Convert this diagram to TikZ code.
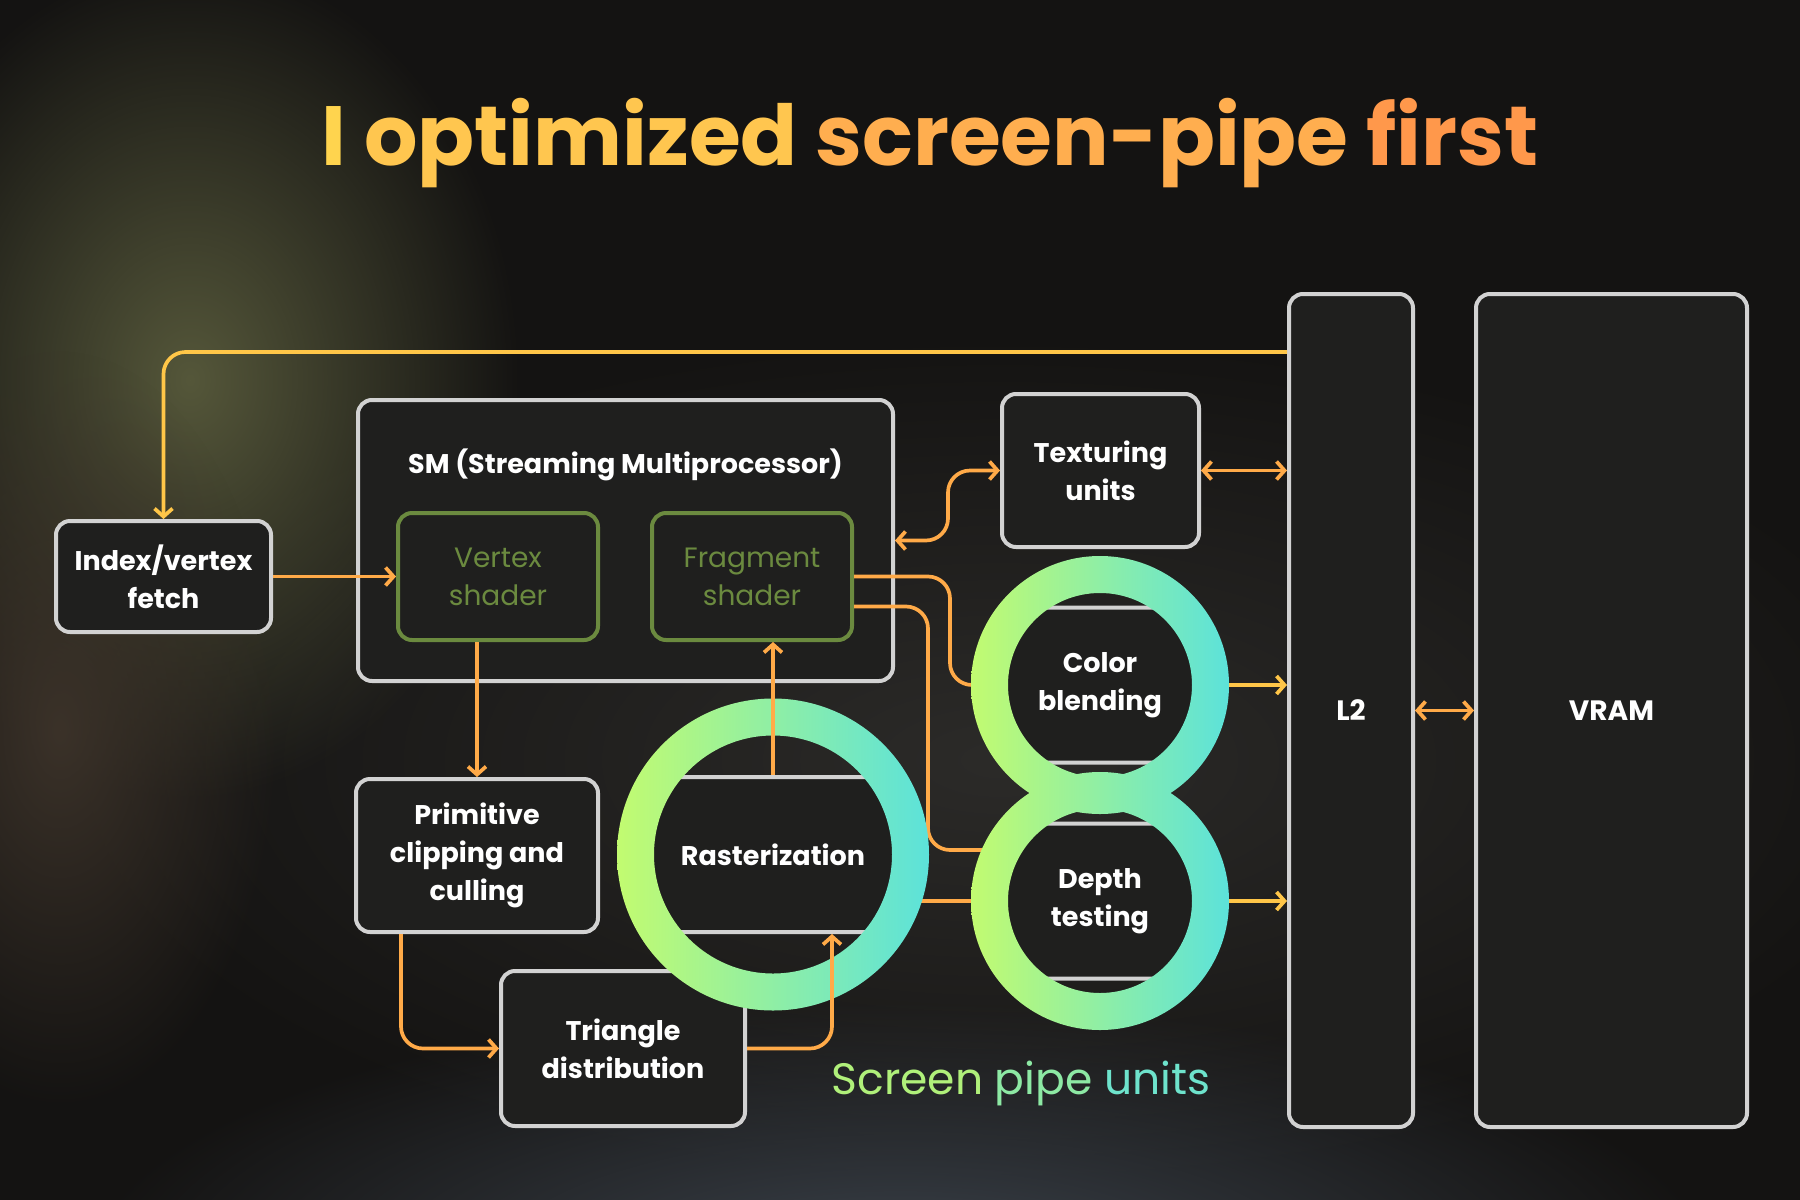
\documentclass[tikz,border=0pt]{standalone}
\usepackage{fontspec}
\setmainfont{Poppins}
\usetikzlibrary{arrows.meta, positioning, fadings}

\definecolor{bgdark}{HTML}{141312}
\definecolor{glowolive}{HTML}{55573A}
\definecolor{glowbrown}{HTML}{3B3229}
\definecolor{glowgrey}{HTML}{2C2B29}
\definecolor{glowblue}{HTML}{3C434C}
\definecolor{boxfill}{HTML}{1F1F1E}
\definecolor{boxline}{HTML}{D2D2D2}
\definecolor{shadergreen}{HTML}{6B8A3F}
\definecolor{pipeorange}{HTML}{FFAA48}
\definecolor{pipeyellow}{HTML}{FFC648}
\definecolor{ringlime}{HTML}{C2FB70}
\definecolor{ringcyan}{HTML}{5CE2DA}

\tikzfading[name=glowfade, inner color=transparent!0, outer color=transparent!100]

\begin{document}
\begin{tikzpicture}[x=1pt, y=-1pt, >={Straight Barb[length=8pt, width=18pt]},
    unit/.style={rectangle, draw=boxline, fill=boxfill, line width=4pt, rounded corners=14pt, text=white, align=center, font=\bfseries\fontsize{27}{38}\selectfont},
    shader/.style={unit, draw=shadergreen, text=shadergreen, font=\fontsize{28}{38}\selectfont, minimum width=200pt, minimum height=127pt},
    conn/.style={draw=pipeorange, line width=3.7pt, rounded corners=22pt, ->},
    plain/.style={draw=pipeorange, line width=3.7pt, rounded corners=22pt},
    ring/.style={left color=ringlime, right color=ringcyan, even odd rule}]
    \useasboundingbox (0,0) rectangle (1800,1200);
    % background
    \fill[bgdark] (0,0) rectangle (1800,1200);
    \fill[glowgrey, path fading=glowfade] (1000,760) ellipse (950 and 430);
    \fill[glowolive, path fading=glowfade] (190,380) ellipse (330 and 420);
    \fill[glowbrown, path fading=glowfade] (60,730) ellipse (220 and 380);
    \fill[glowblue, path fading=glowfade] (900,1270) ellipse (820 and 270);

    \node[font=\bfseries\fontsize{84}{96}\selectfont, anchor=base] (title) at (930,165)
        {\textcolor[HTML]{FFD44E}{I} \textcolor[HTML]{FFC64F}{optimized} \textcolor[HTML]{FFAE4F}{screen-pipe} \textcolor[HTML]{FF984B}{first}};

    \node[unit, minimum width=215pt, minimum height=111pt] (index) at (163.5,576.5) {Index/vertex\\fetch};
    \node[unit, minimum width=535pt, minimum height=281pt] (sm) at (625.5,540.5) {};
    \node[font=\bfseries\fontsize{27}{32}\selectfont, text=white] (smlabel) at (625.5,465) {SM (Streaming Multiprocessor)};
    \node[shader] (vertex) at (498,576.5) {Vertex\\shader};
    \node[shader, right=50pt of vertex] (fragment) {Fragment\\shader};
    \node[unit, minimum width=197pt, minimum height=153pt] (tex) at (1100.5,470.5) {Texturing\\units};
    \node[unit, minimum width=124pt, minimum height=833pt, font=\bfseries\fontsize{28}{32}\selectfont] (l2) at (1351,710.5) {L2};
    \node[unit, minimum width=271pt, minimum height=833pt, font=\bfseries\fontsize{28}{32}\selectfont, right=59pt of l2] (vram) {VRAM};
    \node[unit, minimum width=242pt, minimum height=153pt] (prim) at (477,855.5) {Primitive\\clipping and\\culling};
    \node[unit, minimum width=244pt, minimum height=155pt] (tri) at (623,1048.5) {Triangle\\distribution};
    \node[unit, minimum width=244pt, minimum height=155pt] (raster) at (773,854.5) {Rasterization};
    \node[unit, minimum width=200pt, minimum height=155pt] (color) at (1100,685) {Color\\blending};
    \node[unit, minimum width=200pt, minimum height=155pt, below=57pt of color] (depth) {Depth\\testing};

    \node[font=\fontsize{44}{50}\selectfont, anchor=base] (pipelabel) at (1021,1094)
        {\textcolor[HTML]{B0F07A}{Screen} \textcolor[HTML]{8DE9A4}{pipe} \textcolor[HTML]{6EE3CC}{units}};

    % connectors
    \coordinate (looptop) at (0,352);
    \draw[conn, pipeyellow] (l2.west |- looptop) -| (index.north);
    \draw[conn] (index) -- (vertex);
    \draw[conn] (prim.north |- vertex.south) -- (prim.north);
    \draw[conn] ([xshift=-76pt]prim.south) |- (tri.west);
    \draw[plain] (fragment.east) -- ++(96,0) |- (color.west);
    \draw[plain] ([yshift=-30pt]fragment.east) -- ++(74,0) |- ([yshift=51pt]depth.west);
    \draw[plain] (raster.east |- depth.west) -- (depth.west);
    \draw[conn, <->] (tex.west) -- ++(-52,0) |- (sm.east);
    \draw[conn, <->] (tex.east) -- (tex.east -| l2.west);
    \draw[conn, pipeyellow] (color.east) -- (color.east -| l2.west);
    \draw[conn, pipeyellow] (depth.east) -- (depth.east -| l2.west);
    \draw[conn, <->] (l2) -- (vram);

    % screen pipe rings
    \shade[ring] (raster) circle (156) (raster) circle (119);
    \shade[ring] (color) circle (129) (color) circle (92);
    \shade[ring] (depth) circle (129) (depth) circle (92);

    \draw[conn] (raster.north) -- (raster.north |- fragment.south);
    \draw[conn] (tri.east) -| ([xshift=59pt]raster.south);
\end{tikzpicture}
\end{document}
